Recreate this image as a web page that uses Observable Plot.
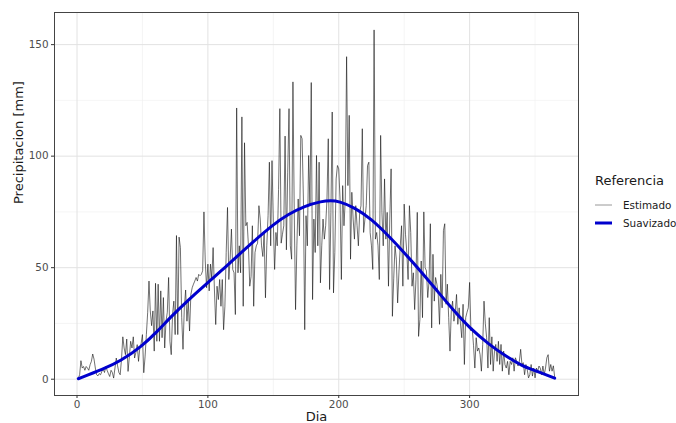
<!DOCTYPE html>
<html>
<head>
<meta charset="utf-8">
<script src="https://cdn.jsdelivr.net/npm/d3@7"></script>
<script src="https://cdn.jsdelivr.net/npm/@observablehq/plot@0.6"></script>
<style>
  html, body { margin: 0; padding: 0; background: #fff; overflow: hidden; }
  #wrap { position: relative; width: 676px; height: 423px; font-family: "DejaVu Sans", sans-serif; }
  #chart { position: absolute; left: 0; top: 0; }
  #legend { position: absolute; left: 595px; top: 171px; font-family: "DejaVu Sans", sans-serif; }
  #legend .title { font-size: 13px; color: #1a1a1a; height: 20px; line-height: 20px; margin-bottom: 5px; }
  #legend .row { display: flex; align-items: center; height: 18px; }
  #legend .row span { font-size: 10.4px; color: #1a1a1a; margin-left: 11px; }
</style>
</head>
<body>
<div id="wrap">
  <div id="chart"></div>
  <div id="legend"></div>
</div>
<script>
// Daily precipitation estimate (mm), day 1 .. 365
const precip = [
  0.5, 2, 8.3, 5, 5.7, 4, 5.7, 5, 4, 6.5,
  8, 11.3, 9, 5, 2, 1.5, 2.5, 2, 3.5, 4.5,
  3, 5.7, 4, 2.5, 1.2, 4, 3, 0.5, 5, 9.5,
  6, 3, 2, 9, 19, 14, 11, 18, 3.5, 10,
  17, 14, 19, 9.5, 12, 15.5, 8, 14, 16, 20,
  2.9, 10, 20, 30, 44, 30.6, 24, 30.6, 12.6, 43,
  17, 42.6, 17, 39.6, 18.6, 36.6, 14, 26, 30, 45.6,
  17, 11, 29, 35, 20, 64.4, 20, 63.7, 59, 27.6,
  13.4, 32, 40, 26, 35, 21.6, 38, 41, 42.6, 44,
  45.6, 44, 47, 46.4, 47, 48.6, 75, 53, 41, 51.6,
  39.6, 51.6, 45, 59, 40, 24.5, 41.7, 35.7, 44.7, 32.7,
  44.7, 22.2, 32.7, 56.8, 77, 44.7, 53.8, 67.3, 49.2, 47.7,
  29, 121.6, 47.7, 59.8, 47.7, 117.6, 32.7, 106, 68.8, 70.3,
  59.8, 41.7, 46, 68.8, 32.7, 56.8, 59.8, 61, 77.8, 71.8,
  59.8, 55, 65.8, 36.5, 59.8, 73.3, 97.3, 59.8, 98, 70.3,
  49.2, 65.8, 59.8, 85, 121.3, 61, 65, 68.8, 109, 58,
  92.8, 121.3, 59.8, 53.8, 133.3, 74.8, 31.2, 59.8, 80.8, 64.3,
  109.3, 107.8, 80.8, 22.2, 73.3, 59.8, 100.3, 77.8, 133, 35.7,
  71.8, 56.8, 100.3, 59.8, 97.3, 43.2, 59.8, 71.8, 62.8, 68.8,
  80.8, 107.8, 40.2, 74.8, 119.8, 38.7, 56.8, 89.8, 95.8, 94.3,
  80.8, 44.7, 86.8, 68.8, 80.8, 144.6, 86.8, 118.3, 53.8, 83.8,
  71.8, 62.8, 77.8, 68.8, 59.8, 74.8, 77.8, 112.3, 65.8, 71.8,
  77.8, 95.8, 97.3, 65.8, 59.8, 49.2, 156.6, 62.8, 65.8, 59.8,
  44.7, 109.3, 74.8, 59.8, 89.8, 62.8, 74.8, 41.7, 71.8, 94.3,
  28.2, 45, 59.8, 53.8, 34.2, 48, 59.8, 68.8, 41.7, 78.5,
  65, 56.8, 44.7, 77.8, 65.8, 41.7, 47.7, 31.2, 44.7, 74.8,
  19.2, 26.7, 53, 27.6, 75, 50, 48.6, 36.6, 44, 69.7,
  23, 56, 35, 45.6, 42.6, 38, 24.6, 47, 32, 66.7,
  69.7, 33.6, 42.6, 27.6, 12.6, 30.6, 35, 26, 30, 38,
  24.6, 32, 25, 18.6, 33.6, 6.6, 27.6, 30, 32, 43.4,
  21.6, 23, 15, 5, 18.6, 12.6, 14, 11, 3.6, 15.6,
  35, 25, 18.6, 5, 27.6, 6.6, 19, 3.6, 12.6, 15.6,
  8, 17, 6.6, 15.6, 3.6, 12.6, 6.6, 5, 8, 2,
  8, 6.6, 9.6, 3.6, 9.6, 8, 5.9, 8, 13.4, 6.6,
  7.4, 2, 6.6, 4.4, 0.6, 2, 6.6, 1.4, 5, 0.6,
  5, 3.6, 5.9, 5, 2, 5.9, 2, 5, 9.6, 11,
  3.6, 6.6, 3.6, 6, 1
];
const dias = d3.range(1, precip.length + 1);

// Smoothed curve, read at a set of days
const suavDias    = [1, 20, 33, 50, 61, 71, 84, 100, 112, 123, 135, 150, 161, 174, 187, 194, 200, 212, 225, 238, 250, 264, 276, 289, 300, 315, 328, 340, 350, 365];
const suavValores = [0.2, 4.5, 8, 15, 21.2, 27.5, 35, 43.4, 49.4, 55.5, 61.8, 69.4, 73.8, 77.7, 79.8, 80.1, 79.8, 77, 71.8, 64.3, 56.8, 47.5, 39, 30, 23, 15.5, 10.2, 6, 3.9, 0.5];

// Axis ticks and grid
const xTicks = [0, 100, 200, 300];
const xMinor = [50, 150, 250, 350];
const yTicks = [0, 50, 100, 150];
const yMinor = [25, 75, 125];

const seriesNames = ["Estimado", "Suavizado"];
const seriesColors = ["#111111", "#0000cd"];

const estimado = dias.map((d, i) => ({dia: d, valor: precip[i]}));
const suavizado = suavDias.map((d, i) => ({dia: d, valor: suavValores[i]}));

function expand(ext) {
  const pad = (ext[1] - ext[0]) * 0.05;
  return [ext[0] - pad, ext[1] + pad];
}
const xDomain = expand(d3.extent(dias));
const yDomain = expand(d3.extent(precip));

const chart = Plot.plot({
  width: 584,
  height: 423,
  marginLeft: 54,
  marginRight: 6,
  marginTop: 12,
  marginBottom: 28,
  style: {fontFamily: "DejaVu Sans, sans-serif", fontSize: "10.4px", background: "#fff"},
  x: {domain: xDomain, label: null},
  y: {domain: yDomain, label: null},
  marks: [
    Plot.ruleX(xMinor, {stroke: "#efefef", strokeWidth: 0.6}),
    Plot.ruleY(yMinor, {stroke: "#efefef", strokeWidth: 0.6}),
    Plot.ruleX(xTicks, {stroke: "#e2e2e2", strokeWidth: 1}),
    Plot.ruleY(yTicks, {stroke: "#e2e2e2", strokeWidth: 1}),
    Plot.line(estimado, {x: "dia", y: "valor", stroke: seriesColors[0], strokeWidth: 0.6}),
    Plot.line(suavizado, {x: "dia", y: "valor", stroke: seriesColors[1], strokeWidth: 3, curve: "basis"}),
    Plot.frame({stroke: "#444", strokeWidth: 1}),
    Plot.axisX({ticks: xTicks, tickSize: 3, tickPadding: 2, stroke: "#333", fill: "#4d4d4d", label: null, fontSize: 10.4}),
    Plot.axisY({ticks: yTicks, tickSize: 3, tickPadding: 3, stroke: "#333", fill: "#4d4d4d", label: null, fontSize: 10.4}),
    Plot.text(["Dia"], {frameAnchor: "bottom", dy: 25, fontSize: 13, fill: "#1a1a1a"}),
    Plot.text(["Precipitacion [mm]"], {frameAnchor: "left", dx: -36, rotate: -90, fontSize: 13, fill: "#1a1a1a"})
  ]
});
document.getElementById("chart").appendChild(chart);

// Legend
const legend = document.getElementById("legend");
const t = document.createElement("div");
t.className = "title";
t.textContent = "Referencia";
legend.appendChild(t);
seriesNames.forEach((name, i) => {
  const row = document.createElement("div");
  row.className = "row";
  const w = i === 0 ? 0.9 : 3;
  const col = i === 0 ? "#8c8c8c" : seriesColors[1];
  row.innerHTML = `<svg width="17" height="18"><line x1="0" x2="17" y1="9" y2="9" stroke="${col}" stroke-width="${w}"/></svg><span>${name}</span>`;
  legend.appendChild(row);
});
</script>
</body>
</html>
